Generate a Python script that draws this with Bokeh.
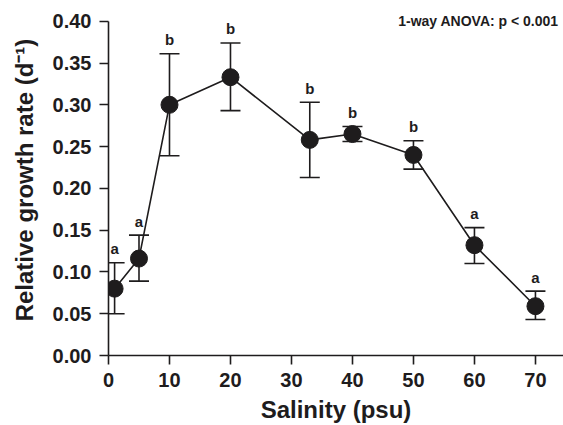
from bokeh.plotting import figure
from bokeh.models import Range1d, FixedTicker, PrintfTickFormatter, Whisker, TeeHead, ColumnDataSource, Label
from bokeh.embed import file_html
from bokeh.resources import INLINE
from bokeh.core.properties import value

salinity = [1, 5, 10, 20, 33, 40, 50, 60, 70]
rgr = [0.080, 0.116, 0.300, 0.333, 0.258, 0.265, 0.240, 0.132, 0.059]
err_upper = [0.111, 0.144, 0.361, 0.374, 0.303, 0.274, 0.257, 0.153, 0.077]
err_lower = [0.050, 0.089, 0.239, 0.293, 0.213, 0.256, 0.223, 0.110, 0.043]
groups = ["a", "a", "b", "b", "b", "b", "b", "a", "a"]
x_ticks = [0, 10, 20, 30, 40, 50, 60, 70]
y_ticks = [0.00, 0.05, 0.10, 0.15, 0.20, 0.25, 0.30, 0.35, 0.40]

INK = "#1e1c1d"
FONT = "Liberation Sans"

src = ColumnDataSource(dict(x=salinity, y=rgr, upper=err_upper, lower=err_lower, g=groups))

p = figure(frame_width=455, frame_height=351, output_backend="svg", toolbar_location=None,
           x_range=Range1d(0, 74.6), y_range=Range1d(0, 0.42),
           min_border_left=108, min_border_top=4, min_border_right=0, min_border_bottom=10)
p.outline_line_color = None
p.xgrid.visible = False
p.ygrid.visible = False
p.background_fill_color = "white"

for ax in (p.xaxis[0], p.yaxis[0]):
    ax.axis_line_color = INK
    ax.axis_line_width = 1.6
    ax.major_tick_line_color = INK
    ax.major_tick_line_width = 1.6
    ax.major_tick_out = 9
    ax.major_tick_in = 0
    ax.minor_tick_line_color = None
    ax.major_label_text_font = FONT
    ax.major_label_text_font_style = "bold"
    ax.major_label_text_font_size = "20px"
    ax.major_label_text_color = INK
    ax.axis_label_text_font = FONT
    ax.axis_label_text_font_style = "bold"
    ax.axis_label_text_font_size = "24px"
    ax.axis_label_text_color = INK

p.xaxis.ticker = FixedTicker(ticks=x_ticks)
p.yaxis.ticker = FixedTicker(ticks=y_ticks)
p.yaxis.bounds = (y_ticks[0], y_ticks[-1])
p.yaxis.formatter = PrintfTickFormatter(format="%.2f")
p.xaxis.major_label_standoff = 8
p.yaxis.major_label_standoff = 8
p.xaxis.axis_label = "Salinity (psu)"
p.yaxis.axis_label = "Relative growth rate (d\u207b\u00b9)"
p.xaxis.axis_label_standoff = 6
p.yaxis.axis_label_standoff = 12

w = Whisker(base="x", upper="upper", lower="lower", source=src,
            line_color=INK, line_width=1.6,
            upper_head=TeeHead(size=20, line_color=INK, line_width=1.6),
            lower_head=TeeHead(size=20, line_color=INK, line_width=1.6))
p.add_layout(w)

p.line("x", "y", source=src, line_color=INK, line_width=1.6)
p.scatter("x", "y", source=src, size=17, fill_color=INK, line_color=INK)

p.text("x", "upper", text="g", source=src, y_offset=-14, text_align="center",
       text_baseline="alphabetic", text_font=value(FONT), text_font_style="bold",
       text_font_size="15px", text_color=INK)

p.add_layout(Label(x=73.8, y=0.40, text="1-way ANOVA: p < 0.001", text_align="right",
                   text_baseline="middle", text_font=FONT, text_font_style="bold",
                   text_font_size="14px", text_color=INK))

open("out.html", "w").write(file_html(p, INLINE))
